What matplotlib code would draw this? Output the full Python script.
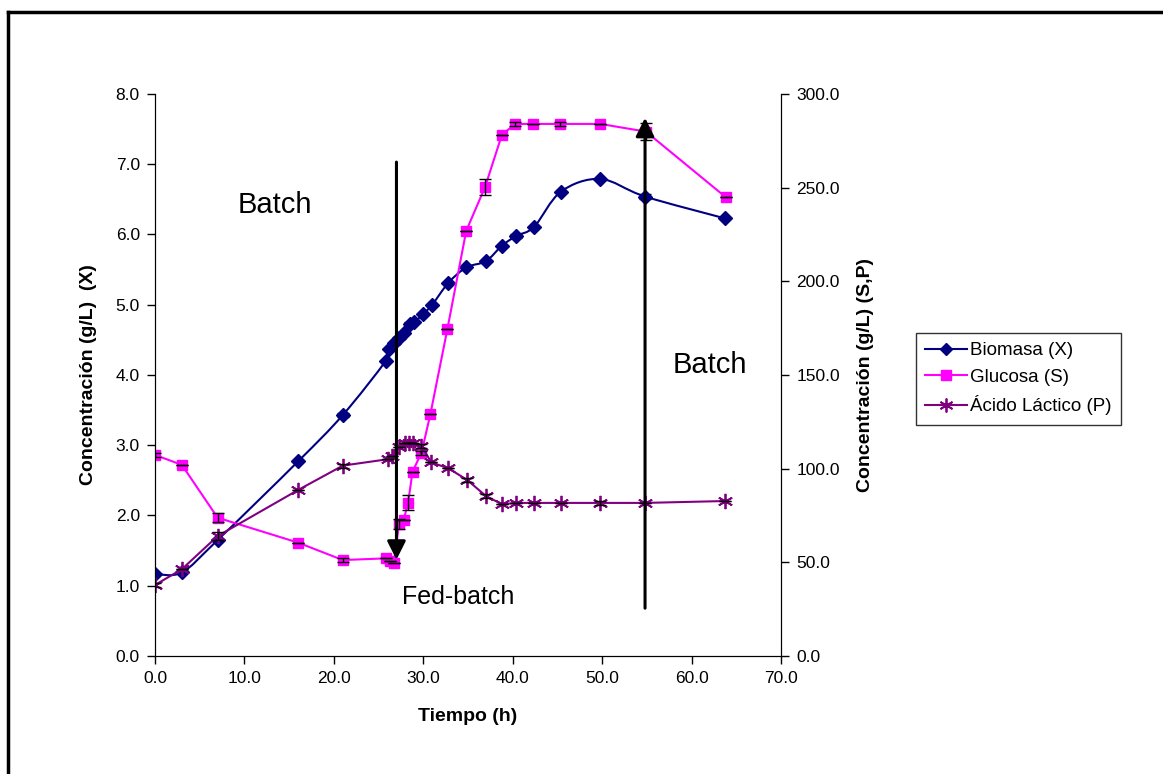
import matplotlib
matplotlib.use("Agg")
import matplotlib.pyplot as plt
from matplotlib.path import Path
from matplotlib.patches import PathPatch
from matplotlib.lines import Line2D
from matplotlib.ticker import FormatStrFormatter
import numpy as np

plt.rcParams['font.family'] = ['Liberation Sans', 'DejaVu Sans']

# Biomasa (X), eje izquierdo
t_x = [0, 3, 7, 16, 21, 25.8, 26.2, 26.7, 27.3, 27.8, 28.5, 29.0, 30.0, 31.0,
       32.8, 34.8, 37.0, 38.8, 40.4, 42.4, 45.4, 49.8, 54.8, 63.7]
biomasa = [1.17, 1.19, 1.65, 2.77, 3.43, 4.20, 4.37, 4.45, 4.53, 4.60, 4.73, 4.75, 4.87, 5.00,
           5.31, 5.53, 5.62, 5.84, 5.98, 6.11, 6.61, 6.79, 6.54, 6.23]
err_x = [0, 0, 0, 0, 0.03, 0, 0, 0, 0, 0, 0.03, 0, 0, 0,
         0, 0, 0, 0, 0.03, 0, 0, 0, 0.03, 0]

# Glucosa (S), eje derecho
t_s = [0, 3, 7, 16, 21, 25.8, 26.3, 26.7, 27.3, 27.8, 28.3, 28.8, 29.8, 30.8,
       32.7, 34.8, 36.9, 38.8, 40.3, 42.3, 45.3, 49.8, 54.9, 63.8]
glucosa = [107.3, 102.0, 73.8, 60.5, 51.2, 52.1, 50.7, 49.8, 70.5, 72.6, 81.8, 98.4, 108.5, 129.2,
           174.6, 226.9, 250.2, 278.3, 284.0, 284.0, 284.0, 284.0, 279.9, 245.0]
err_s = [1.0, 0, 2.5, 0, 1.0, 0, 0, 0, 2.5, 0, 4.0, 0, 1.0, 0,
         0, 0, 4.2, 0, 1.0, 0, 1.0, 0, 4.4, 0]

# Ácido Láctico (P), eje derecho
t_p = [0, 3, 7, 16, 21, 26.0, 26.5, 27.3, 27.9, 28.4, 28.9, 29.8, 30.9,
       32.8, 34.9, 37.0, 38.8, 40.4, 42.4, 45.4, 49.8, 54.8, 63.7]
acido = [37.9, 46.3, 64.0, 88.6, 101.6, 105.0, 106.8, 111.7, 113.9, 113.9, 113.9, 112.1, 103.3,
         100.2, 94.0, 85.4, 81.0, 81.7, 81.7, 81.7, 81.7, 81.7, 82.7]
err_p = [1.0, 0, 2.0, 0, 1.0, 0, 0, 0, 0, 0, 0, 1.0, 0,
         0, 1.0, 1.0, 0, 0, 0, 0, 1.0, 0, 0]

c_x = '#000080'
c_s = '#FF00FF'
c_p = '#800080'


def smooth_path(xs, ys):
    # curva suavizada tipo Excel (Bezier cubica por tramos)
    p = np.column_stack([xs, ys]).astype(float)
    n = len(p)
    verts = [p[0]]
    codes = [Path.MOVETO]
    for i in range(n - 1):
        p0 = p[i - 1] if i > 0 else p[i]
        p3 = p[i + 2] if i + 2 < n else p[i + 1]
        c1 = p[i] + (p[i + 1] - p0) / 6.0
        c2 = p[i + 1] - (p3 - p[i]) / 6.0
        verts += [c1, c2, p[i + 1]]
        codes += [Path.CURVE4] * 3
    return Path(verts, codes)


fig = plt.figure(figsize=(11.63, 7.74), dpi=100)
ax = fig.add_axes([0.1333, 0.1525, 0.5382, 0.7261])
ax2 = ax.twinx()

ax.add_patch(PathPatch(smooth_path(t_x, biomasa), fill=False, ec=c_x, lw=1.5, zorder=2))
ax.errorbar(t_x, biomasa, yerr=err_x, fmt='none', ecolor='black', elinewidth=1, capsize=4, zorder=3)
ax.plot(t_x, biomasa, ls='none', marker='D', ms=7, color=c_x, zorder=4)

ax2.plot(t_s, glucosa, color=c_s, lw=1.5, marker='s', ms=7.5, zorder=2)
ax2.errorbar(t_s, glucosa, yerr=err_s, fmt='none', ecolor='black', elinewidth=1, capsize=4, zorder=3)
ax2.plot(t_p, acido, color=c_p, lw=1.5, marker=(6, 2, 0), ms=11, mew=1.3, zorder=2)
ax2.errorbar(t_p, acido, yerr=err_p, fmt='none', ecolor='black', elinewidth=1, capsize=4, zorder=3)

ax2.set_zorder(ax.get_zorder() + 1)
ax.patch.set_visible(False)
ax.set_xlim(0, 70)
ax.set_ylim(0, 8)
ax2.set_ylim(0, 300)

# flechas de cambio de operacion
ax2.annotate('', xy=(27, 1.37 * 37.5), xytext=(27, 7.03 * 37.5),
             arrowprops=dict(arrowstyle='-|>', lw=2.2, color='black', mutation_scale=28,
                             shrinkA=0, shrinkB=0))
ax2.annotate('', xy=(54.8, 7.66 * 37.5), xytext=(54.8, 0.68 * 37.5),
             arrowprops=dict(arrowstyle='-|>', lw=2.2, color='black', mutation_scale=28,
                             shrinkA=0, shrinkB=0))

ax.text(13.4, 6.42, 'Batch', fontsize=21, ha='center', va='center')
ax.text(62.1, 4.14, 'Batch', fontsize=21, ha='center', va='center')
ax.text(33.9, 0.84, 'Fed-batch', fontsize=18, ha='center', va='center')

ax.set_xticks(np.arange(0, 71, 10))
ax.set_yticks(np.arange(0, 8.1, 1))
ax2.set_yticks(np.arange(0, 301, 50))
for a in (ax, ax2):
    a.tick_params(direction='out', length=6, width=1, labelsize=12.5, pad=5)
    a.spines['top'].set_visible(False)
    a.xaxis.set_major_formatter(FormatStrFormatter('%.1f'))
    a.yaxis.set_major_formatter(FormatStrFormatter('%.1f'))

ax.set_xlabel('Tiempo (h)', fontsize=14, fontweight='bold', labelpad=16)
ax.set_ylabel('Concentración (g/L)  (X)', fontsize=14, fontweight='bold', labelpad=13)
ax2.set_ylabel('Concentración (g/L) (S,P)', fontsize=14, fontweight='bold', labelpad=12)

handles = [
    Line2D([], [], color=c_x, lw=1.5, marker='D', ms=6),
    Line2D([], [], color=c_s, lw=1.5, marker='s', ms=6.5),
    Line2D([], [], color=c_p, lw=1.5, marker=(6, 2, 0), ms=10, mew=1.3),
]
labels = ['Biomasa (X)', 'Glucosa (S)', 'Ácido Láctico (P)']
leg = fig.legend(handles, labels, loc='upper left', bbox_to_anchor=(0.7876, 0.5698),
                 fontsize=13.5, frameon=True, fancybox=False, edgecolor='black',
                 handlelength=2.2, handletextpad=0.2, borderpad=0.5, labelspacing=0.5,
                 borderaxespad=0)
leg.get_frame().set_linewidth(1)

# marco exterior
fig.add_artist(Line2D([8 / 1163, 8 / 1163], [0, 1 - 12 / 774], transform=fig.transFigure,
                      color='black', lw=2.5))
fig.add_artist(Line2D([8 / 1163, 1], [1 - 12 / 774, 1 - 12 / 774], transform=fig.transFigure,
                      color='black', lw=2.5))

fig.savefig('out.png', dpi=100)
